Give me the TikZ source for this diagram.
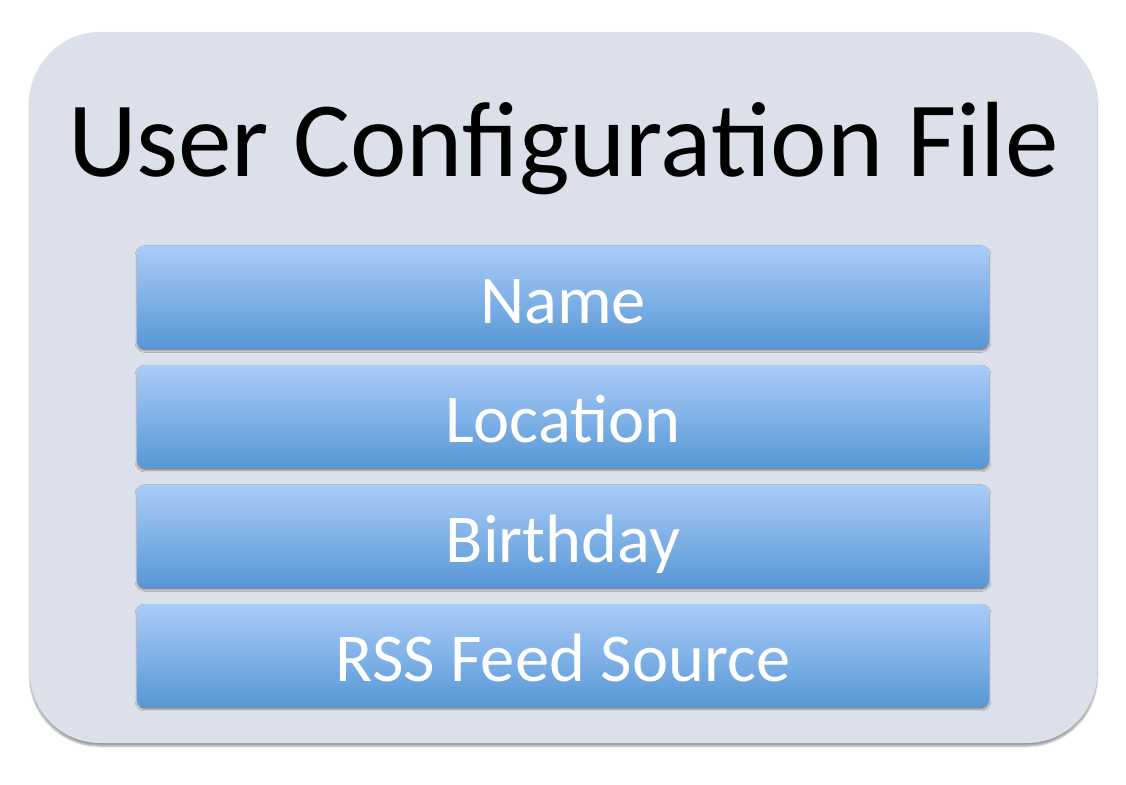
\documentclass[tikz,border=0pt]{standalone}
\usepackage{fontspec}
\setmainfont{Carlito}
\usetikzlibrary{shadows.blur}
\definecolor{outerfill}{HTML}{DBE0EB}
\definecolor{itemtop}{HTML}{AACCF8}
\definecolor{itembot}{HTML}{5797D6}
\tikzset{
  outerbox/.style={rounded corners=70pt, fill=outerfill, minimum width=1067pt, minimum height=711pt,
    blur shadow={shadow xshift=0pt, shadow yshift=-3pt, shadow blur steps=6, shadow opacity=40}, inner sep=0pt},
  itembox/.style={rounded corners=8pt, top color=itemtop, bottom color=itembot, minimum width=852pt,
    minimum height=103pt, inner sep=0pt, text=white, font=\fontsize{68.5}{74}\selectfont,
    text height=52pt, text depth=0pt,
    blur shadow={shadow xshift=0pt, shadow yshift=-2pt, shadow blur steps=4, shadow opacity=45}},
  titletext/.style={font=\fontsize{107}{112}\selectfont, text=black, inner sep=0pt}
}
\begin{document}
\begin{tikzpicture}[x=1pt,y=-1pt]
\useasboundingbox (0,0) rectangle (1126,784);
\node[outerbox] (outer) at (563.5,387.5) {};
\node[titletext, anchor=base] (title) at (563.5,176) {User Configuration File};
\node[itembox] (name) at (563,297) {Name};
\node[itembox] (loc) at (563,416.5) {Location};
\node[itembox] (bday) at (563,536) {Birthday};
\node[itembox] (rss) at (563,655.5) {RSS Feed Source};
\end{tikzpicture}
\end{document}
